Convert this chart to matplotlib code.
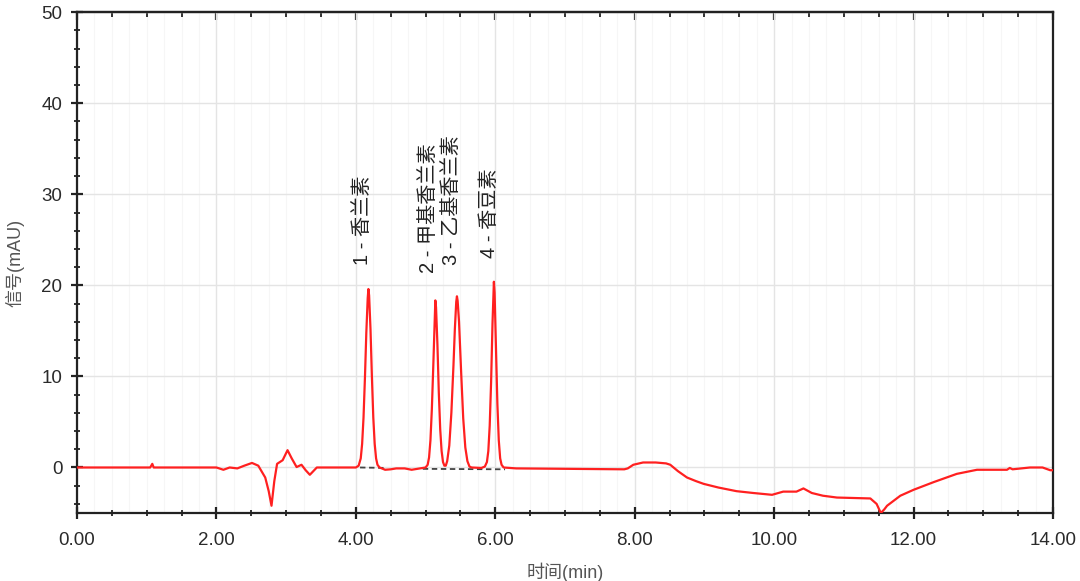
import matplotlib
matplotlib.use("Agg")
import matplotlib.pyplot as plt
from matplotlib.ticker import MultipleLocator, FormatStrFormatter, NullFormatter

plt.rcParams['font.family'] = ['Liberation Sans', 'Noto Sans CJK SC', 'DejaVu Sans']

# chromatogram signal (time in min, signal in mAU)
time_min = [
    0.00, 1.05, 1.08, 1.10, 2.00, 2.10, 2.19, 2.30, 2.40, 2.51, 2.60, 2.70, 2.75, 2.79, 2.83,
    2.87, 2.95, 3.02, 3.08, 3.15, 3.22, 3.28, 3.34, 3.44, 4.00,
    4.04, 4.07, 4.09, 4.11, 4.13, 4.15, 4.17, 4.18, 4.19, 4.21, 4.23, 4.25, 4.27, 4.29, 4.31, 4.34,
    4.42, 4.50, 4.58, 4.70, 4.80, 4.92, 5.00,
    5.03, 5.05, 5.07, 5.09, 5.11, 5.13, 5.14, 5.15, 5.17, 5.19, 5.21, 5.23, 5.25, 5.27,
    5.29, 5.31, 5.34, 5.37, 5.40, 5.42, 5.44, 5.45, 5.46, 5.48, 5.51, 5.54, 5.57, 5.60, 5.63, 5.66,
    5.80, 5.85, 5.88, 5.90, 5.92, 5.94, 5.96, 5.98, 5.99, 6.01, 6.03, 6.05, 6.07, 6.09, 6.12,
    6.30, 7.00, 7.85, 7.90, 7.98, 8.12, 8.30, 8.45, 8.51, 8.62, 8.75, 8.88, 8.99, 9.20, 9.46,
    9.70, 9.97, 10.13, 10.32, 10.42, 10.54, 10.70, 10.90, 11.38, 11.47, 11.53, 11.58, 11.62,
    11.81, 12.00, 12.29, 12.62, 12.91, 13.34, 13.38, 13.42, 13.67, 13.85, 13.96, 14.00,
]
signal_mau = [
    0.00, 0.00, 0.40, 0.00, 0.00, -0.25, 0.00, -0.10, 0.20, 0.50, 0.20, -1.10, -2.60, -4.20, -1.50,
    0.40, 0.80, 1.90, 1.00, 0.05, 0.30, -0.30, -0.80, 0.00, 0.00,
    0.20, 1.00, 2.60, 5.50, 9.80, 14.80, 18.60, 19.60, 18.90, 15.20, 10.00, 5.50, 2.60, 1.00, 0.30, 0.00,
    -0.25, -0.20, -0.10, -0.10, -0.25, -0.10, 0.00,
    0.30, 1.10, 3.00, 6.40, 11.00, 16.00, 18.35, 17.60, 13.50, 8.20, 4.20, 1.80, 0.60, 0.20,
    0.20, 0.70, 2.40, 6.00, 11.20, 15.20, 18.20, 18.80, 18.30, 16.00, 10.50, 5.40, 2.20, 0.70, 0.10, 0.00,
    -0.05, 0.10, 0.60, 1.80, 4.60, 9.40, 15.80, 20.40, 19.20, 13.20, 7.00, 3.00, 1.00, 0.30, 0.00,
    -0.10, -0.15, -0.20, -0.10, 0.30, 0.55, 0.55, 0.45, 0.30, -0.40, -1.10, -1.50, -1.80, -2.20, -2.60,
    -2.80, -3.00, -2.65, -2.65, -2.30, -2.80, -3.10, -3.30, -3.40, -4.00, -5.00, -4.60, -4.20,
    -3.10, -2.45, -1.60, -0.70, -0.25, -0.25, -0.05, -0.20, 0.00, 0.00, -0.30, -0.30,
]

# integration baselines (dashed)
baseline1_t = [4.06, 4.44]
baseline1_y = [0.00, -0.05]
baseline2_t = [4.96, 6.14]
baseline2_y = [-0.15, -0.20]

# peak labels
peak_labels = ['1 - 香兰素', '2 - 甲基香兰素', '3 - 乙基香兰素', '4 - 香豆素']
label_t = [4.10, 5.04, 5.37, 5.91]
label_y = [22.2, 21.4, 22.2, 23.0]

x_ticks = [0, 2, 4, 6, 8, 10, 12, 14]
y_ticks = [0, 10, 20, 30, 40, 50]

fig = plt.figure(figsize=(10.8, 5.81), dpi=100)
ax = fig.add_axes([0.0713, 0.117, 0.9037, 0.862])

ax.set_xlim(0, 14)
ax.set_ylim(-5, 50)

ax.xaxis.set_minor_locator(MultipleLocator(0.5))
ax.yaxis.set_minor_locator(MultipleLocator(2))
ax.set_xticks(x_ticks)
ax.set_yticks(y_ticks)
ax.xaxis.set_major_formatter(FormatStrFormatter('%.2f'))
ax.grid(True, which='major', color='#e4e4e4', linewidth=1.0)
for xv in [v * 0.25 for v in range(1, 56)]:
    if abs(xv % 2) > 1e-9:
        ax.axvline(xv, color='#f6f6f6', linewidth=0.8, zorder=0)
ax.set_axisbelow(True)

ax.plot(baseline1_t, baseline1_y, color='#444444', linestyle=(0, (3, 2)), linewidth=1.3, zorder=2)
ax.plot(baseline2_t, baseline2_y, color='#444444', linestyle=(0, (3, 2)), linewidth=1.3, zorder=2)
ax.plot(time_min, signal_mau, color='#ff2020', linewidth=1.6, zorder=3)

for lab, tx, ty in zip(peak_labels, label_t, label_y):
    ax.text(tx, ty, lab, rotation=90, ha='center', va='bottom', fontsize=14.5,
            color='#222222', family=['Liberation Sans', 'Noto Sans CJK SC'])

for s in ax.spines.values():
    s.set_color('#222222')
    s.set_linewidth(1.6)

ax.tick_params(axis='both', which='major', direction='inout', length=9, width=1.6,
               colors='#222222', labelsize=13.5, labelcolor='#2a2a2a')
ax.tick_params(axis='both', which='minor', direction='inout', length=5, width=1.3, colors='#222222')
ax.tick_params(axis='x', which='major', pad=9)
ax.tick_params(axis='y', which='major', pad=6)

# top axis ticks pointing inward
top = ax.secondary_xaxis('top')
top.set_xticks(x_ticks)
top.xaxis.set_minor_locator(MultipleLocator(0.5))
top.xaxis.set_major_formatter(NullFormatter())
top.tick_params(which='major', direction='in', length=6, width=1.6, colors='#222222')
top.tick_params(which='minor', direction='in', length=3.5, width=1.3, colors='#222222')
top.spines['top'].set_linewidth(1.6)
top.spines['top'].set_color('#222222')

ax.set_xlabel('时间(min)', fontsize=13, color='#555555', labelpad=10,
              family=['Liberation Sans', 'Noto Sans CJK SC'])
ax.set_ylabel('信号(mAU)', fontsize=13, color='#555555', labelpad=12,
              family=['Liberation Sans', 'Noto Sans CJK SC'])

fig.savefig('out.png', dpi=100)
